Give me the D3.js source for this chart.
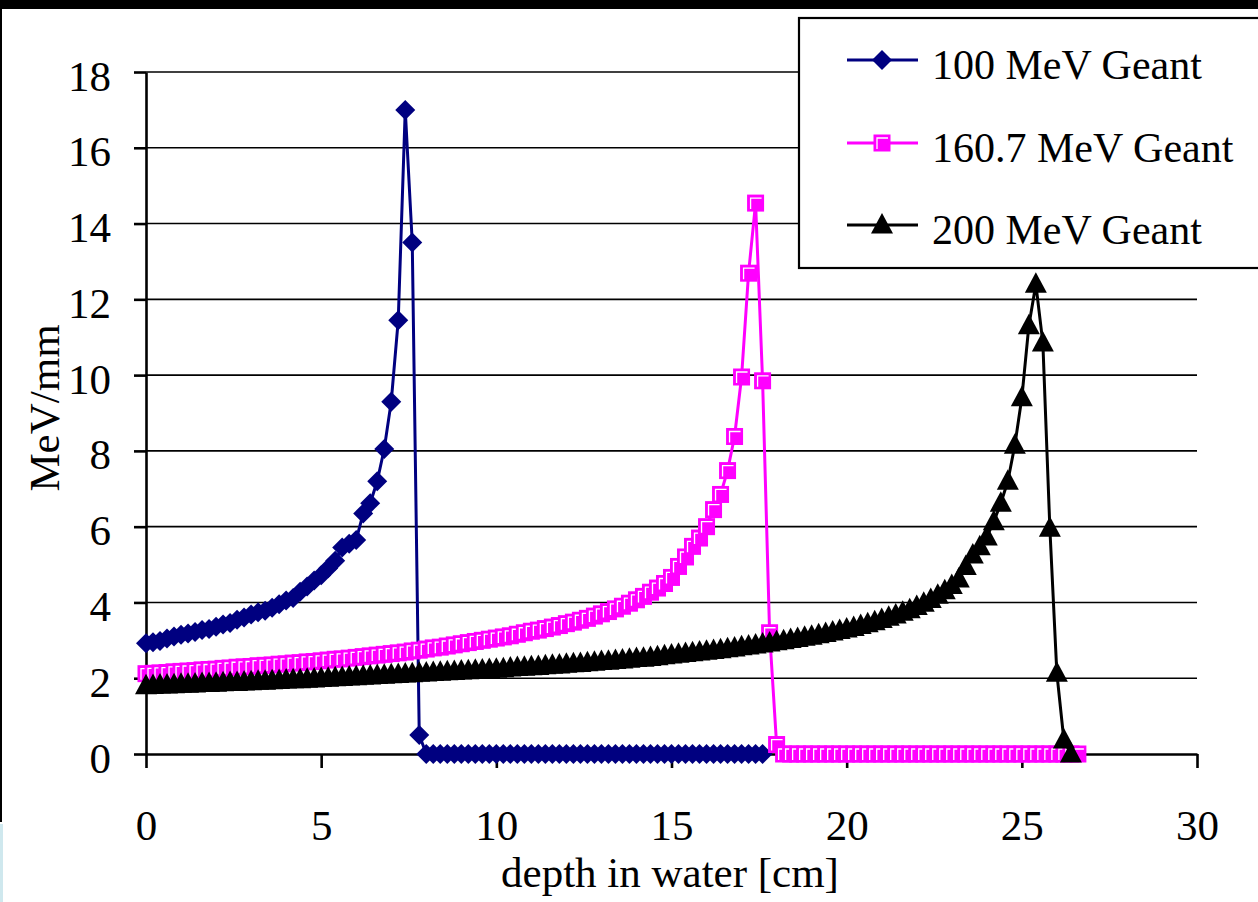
<!DOCTYPE html>
<html>
<head>
<meta charset="utf-8">
<script src="https://cdn.jsdelivr.net/npm/d3@7"></script>
<style>
body { margin: 0; background: #fff; }
svg { display: block; font-family: "Liberation Serif", "Times New Roman", serif; }
.grid line { stroke: #000; stroke-width: 1.6; }
.axis path, .axis line { stroke: #000; stroke-width: 2.6; }
.axis text { font-size: 43px; fill: #000; font-family: "Liberation Serif", serif; }
.title { font-size: 43px; fill: #000; }
.legend text { font-size: 42px; fill: #000; }
</style>
</head>
<body>
<svg id="chart" width="1258" height="902"></svg>
<script>
// depth in water [cm], shared by all three series
var depth = [
  0.0, 0.2, 0.4, 0.6, 0.8, 1.0, 1.2, 1.4, 1.6, 1.8,
  2.0, 2.2, 2.4, 2.6, 2.8, 3.0, 3.2, 3.4, 3.6, 3.8,
  4.0, 4.2, 4.4, 4.6, 4.8, 5.0, 5.2, 5.4, 5.6, 5.8,
  6.0, 6.2, 6.4, 6.6, 6.8, 7.0, 7.2, 7.4, 7.6, 7.8,
  8.0, 8.2, 8.4, 8.6, 8.8, 9.0, 9.2, 9.4, 9.6, 9.8,
  10.0, 10.2, 10.4, 10.6, 10.8, 11.0, 11.2, 11.4, 11.6, 11.8,
  12.0, 12.2, 12.4, 12.6, 12.8, 13.0, 13.2, 13.4, 13.6, 13.8,
  14.0, 14.2, 14.4, 14.6, 14.8, 15.0, 15.2, 15.4, 15.6, 15.8,
  16.0, 16.2, 16.4, 16.6, 16.8, 17.0, 17.2, 17.4, 17.6, 17.8,
  18.0, 18.2, 18.4, 18.6, 18.8, 19.0, 19.2, 19.4, 19.6, 19.8,
  20.0, 20.2, 20.4, 20.6, 20.8, 21.0, 21.2, 21.4, 21.6, 21.8,
  22.0, 22.2, 22.4, 22.6, 22.8, 23.0, 23.2, 23.4, 23.6, 23.8,
  24.0, 24.2, 24.4, 24.6, 24.8, 25.0, 25.2, 25.4, 25.6, 25.8,
  26.0, 26.2, 26.4, 26.6
];

// MeV/mm
var mev100 = [
  2.92, 2.95, 2.98, 3.05, 3.10, 3.15, 3.18, 3.22, 3.27, 3.30,
  3.36, 3.42, 3.46, 3.54, 3.60, 3.68, 3.74, 3.78, 3.86, 3.95,
  4.05, 4.12, 4.28, 4.42, 4.58, 4.72, 4.90, 5.10, 5.45, 5.55,
  5.65, 6.35, 6.62, 7.20, 8.05, 9.30, 11.45, 17.00, 13.50, 0.50,
  0, 0, 0, 0, 0, 0, 0, 0, 0, 0,
  0, 0, 0, 0, 0, 0, 0, 0, 0, 0,
  0, 0, 0, 0, 0, 0, 0, 0, 0, 0,
  0, 0, 0, 0, 0, 0, 0, 0, 0, 0,
  0, 0, 0, 0, 0, 0, 0, 0, 0
];

var mev160 = [
  2.12, 2.13, 2.14, 2.15, 2.17, 2.18, 2.19, 2.20, 2.22, 2.23,
  2.24, 2.26, 2.27, 2.29, 2.30, 2.31, 2.33, 2.34, 2.35, 2.37,
  2.38, 2.40, 2.41, 2.43, 2.44, 2.46, 2.48, 2.50, 2.51, 2.53,
  2.55, 2.57, 2.59, 2.61, 2.63, 2.65, 2.67, 2.69, 2.72, 2.74,
  2.77, 2.80, 2.82, 2.85, 2.88, 2.91, 2.94, 2.97, 3.00, 3.03,
  3.06, 3.09, 3.12, 3.16, 3.20, 3.24, 3.27, 3.31, 3.35, 3.39,
  3.44, 3.48, 3.53, 3.58, 3.64, 3.70, 3.76, 3.83, 3.90, 3.98,
  4.07, 4.16, 4.27, 4.38, 4.50, 4.66, 4.95, 5.20, 5.48, 5.70,
  6.00, 6.45, 6.85, 7.48, 8.38, 9.95, 12.69, 14.54, 9.85, 3.20,
  0.25, 0, 0, 0, 0, 0, 0, 0, 0, 0,
  0, 0, 0, 0, 0, 0, 0, 0, 0, 0,
  0, 0, 0, 0, 0, 0, 0, 0, 0, 0,
  0, 0, 0, 0, 0, 0, 0, 0, 0, 0,
  0, 0, 0, 0
];

var mev200 = [
  1.80, 1.81, 1.82, 1.82, 1.83, 1.84, 1.84, 1.85, 1.86, 1.86,
  1.87, 1.88, 1.89, 1.89, 1.90, 1.91, 1.92, 1.92, 1.93, 1.94,
  1.95, 1.96, 1.96, 1.97, 1.98, 1.99, 2.00, 2.01, 2.02, 2.03,
  2.04, 2.05, 2.06, 2.07, 2.08, 2.09, 2.10, 2.11, 2.12, 2.13,
  2.14, 2.15, 2.16, 2.17, 2.18, 2.19, 2.20, 2.21, 2.22, 2.23,
  2.24, 2.25, 2.27, 2.28, 2.29, 2.30, 2.31, 2.33, 2.34, 2.35,
  2.37, 2.38, 2.39, 2.41, 2.42, 2.44, 2.45, 2.47, 2.48, 2.50,
  2.52, 2.53, 2.55, 2.57, 2.59, 2.61, 2.63, 2.65, 2.67, 2.69,
  2.71, 2.73, 2.75, 2.78, 2.80, 2.83, 2.85, 2.88, 2.90, 2.93,
  2.96, 2.99, 3.02, 3.05, 3.08, 3.11, 3.15, 3.18, 3.22, 3.26,
  3.30, 3.34, 3.39, 3.44, 3.49, 3.55, 3.61, 3.67, 3.74, 3.81,
  3.89, 3.98, 4.08, 4.19, 4.31, 4.45, 4.62, 4.95, 5.25, 5.47,
  5.73, 6.13, 6.62, 7.20, 8.15, 9.40, 11.30, 12.40, 10.85, 5.96,
  2.13, 0.37, 0.00
];

var seriesNames = [ "100 MeV Geant", "160.7 MeV Geant", "200 MeV Geant" ];
var seriesColors = [ "#000080", "#ff00ff", "#000000" ];
var xTicks = [ 0, 5, 10, 15, 20, 25, 30 ];
var yTicks = [ 0, 2, 4, 6, 8, 10, 12, 14, 16, 18 ];

( function() {
  var svg = d3.select( "#chart" );

  // screenshot border bits round the slide
  svg.append( "rect" ).attr( "x" , 0 ).attr( "y" , 0 ).attr( "width" , 1258 ).attr( "height" , 9 ).attr( "fill" , "#000" );
  svg.append( "rect" ).attr( "x" , 0 ).attr( "y" , 9 ).attr( "width" , 2 ).attr( "height" , 813 ).attr( "fill" , "#000" );
  svg.append( "rect" ).attr( "x" , 0 ).attr( "y" , 824 ).attr( "width" , 3 ).attr( "height" , 78 ).attr( "fill" , "#cfe8ee" );

  var x = d3.scaleLinear().domain( [ 0 , 30 ] ).range( [ 146 , 1197 ] );
  var y = d3.scaleLinear().domain( [ 0 , 18 ] ).range( [ 754 , 72 ] );

  // horizontal gridlines
  svg.append( "g" ).attr( "class" , "grid" )
    .selectAll( "line" ).data( yTicks.filter( function( t ) { return t > 0; } ) )
    .join( "line" )
      .attr( "x1" , x( 0 ) ).attr( "x2" , x( 30 ) )
      .attr( "y1" , function( t ) { return y( t ); } )
      .attr( "y2" , function( t ) { return y( t ); } );

  var xAxis = svg.append( "g" ).attr( "class" , "axis" )
    .attr( "transform" , "translate(0," + y( 0 ) + ")" )
    .call( d3.axisBottom( x ).tickValues( xTicks ).tickSize( 14 ).tickSizeOuter( 0 ) );
  xAxis.selectAll( "text" ).attr( "y" , 86 ).attr( "dy" , null );

  var yAxis = svg.append( "g" ).attr( "class" , "axis" )
    .attr( "transform" , "translate(" + x( 0 ) + ",0)" )
    .call( d3.axisLeft( y ).tickValues( yTicks ).tickSize( 12 ).tickSizeOuter( 0 ).tickPadding( 23 ) );
  yAxis.selectAll( "text" ).attr( "dy" , "0.42em" );

  svg.append( "text" ).attr( "class" , "title" )
    .attr( "x" , 670 ).attr( "y" , 887 )
    .attr( "text-anchor" , "middle" )
    .text( "depth in water [cm]" );

  svg.append( "text" ).attr( "class" , "title" )
    .attr( "transform" , "translate(59,408) rotate(-90)" )
    .attr( "text-anchor" , "middle" )
    .text( "MeV/mm" );

  // marker painters, one per series
  var markers = [
    function( g , c ) {
      g.append( "path" ).attr( "d" , "M0,-10L10,0L0,10L-10,0Z" ).attr( "fill" , c );
    },
    function( g , c ) {
      g.append( "rect" ).attr( "x" , -8.5 ).attr( "y" , -8.5 ).attr( "width" , 17 ).attr( "height" , 17 ).attr( "fill" , c );
      g.append( "path" ).attr( "d" , "M-5,6V-5H6" ).attr( "fill" , "none" ).attr( "stroke" , "#fff" ).attr( "stroke-width" , 1.3 );
    },
    function( g , c ) {
      g.append( "path" ).attr( "d" , "M0,-12L11,8.5L-11,8.5Z" ).attr( "fill" , c );
    }
  ];

  var seriesValues = [ mev100 , mev160 , mev200 ];
  var line = d3.line()
    .x( function( d ) { return x( d[0] ); } )
    .y( function( d ) { return y( d[1] ); } );

  seriesValues.forEach( function( vals , i ) {
    var pts = vals.map( function( v , k ) { return [ depth[k] , v ]; } );
    var g = svg.append( "g" );
    g.append( "path" ).datum( pts )
      .attr( "d" , line )
      .attr( "fill" , "none" )
      .attr( "stroke" , seriesColors[i] )
      .attr( "stroke-width" , 3 )
      .attr( "stroke-linejoin" , "round" );
    g.selectAll( "g.pt" ).data( pts ).join( "g" )
      .attr( "class" , "pt" )
      .attr( "transform" , function( d ) { return "translate(" + x( d[0] ) + "," + y( d[1] ) + ")"; } )
      .each( function() { markers[i]( d3.select( this ) , seriesColors[i] ); } );
  } );

  // legend
  var legend = svg.append( "g" ).attr( "class" , "legend" );
  legend.append( "rect" )
    .attr( "x" , 799 ).attr( "y" , 18 ).attr( "width" , 470 ).attr( "height" , 250 )
    .attr( "fill" , "#fff" ).attr( "stroke" , "#000" ).attr( "stroke-width" , 2.2 );
  var rowY = [ 60 , 143 , 225 ];
  seriesNames.forEach( function( name , i ) {
    var row = legend.append( "g" ).attr( "transform" , "translate(0," + rowY[i] + ")" );
    row.append( "line" ).attr( "x1" , 847 ).attr( "x2" , 918 ).attr( "y1" , 0 ).attr( "y2" , 0 )
      .attr( "stroke" , seriesColors[i] ).attr( "stroke-width" , 3 );
    markers[i]( row.append( "g" ).attr( "transform" , "translate(882,0)" ) , seriesColors[i] );
    row.append( "text" ).attr( "x" , 932 ).attr( "y" , 19 ).text( name );
  } );
} )();
</script>
</body>
</html>
